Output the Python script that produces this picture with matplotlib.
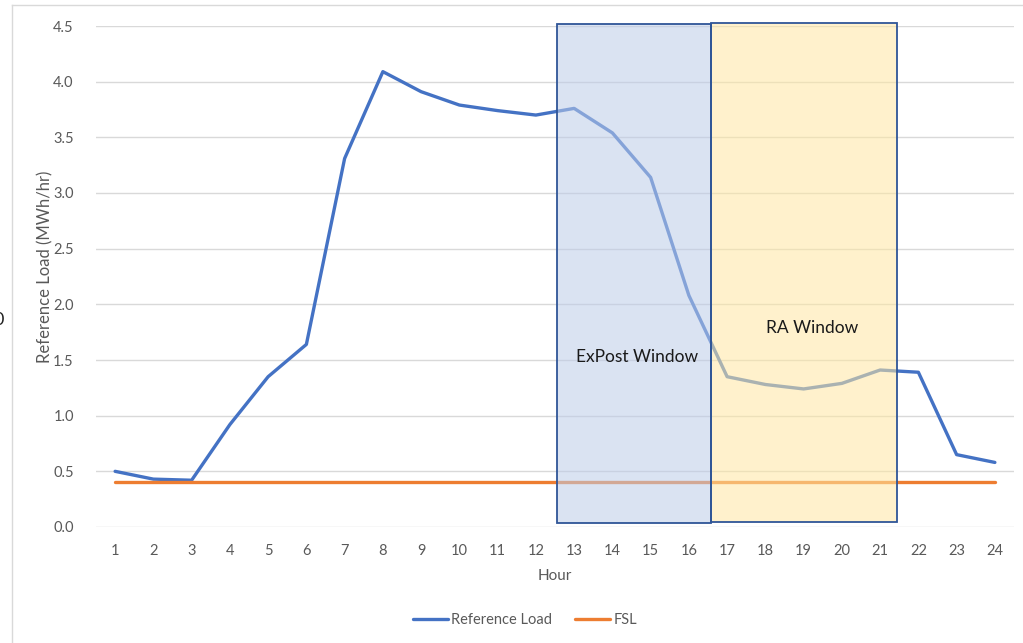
import matplotlib
matplotlib.use("Agg")
import matplotlib.pyplot as plt
from matplotlib.patches import Rectangle

plt.rcParams['font.family'] = ['Lato', 'DejaVu Sans']

hours = list(range(1, 25))
reference_load = [0.50, 0.43, 0.42, 0.92, 1.35, 1.64, 3.31, 4.09, 3.91, 3.79, 3.74, 3.70,
                  3.76, 3.54, 3.14, 2.08, 1.35, 1.28, 1.24, 1.29, 1.41, 1.39, 0.65, 0.58]
fsl = [0.40] * 24
y_ticks = [0.0, 0.5, 1.0, 1.5, 2.0, 2.5, 3.0, 3.5, 4.0, 4.5]

# shaded windows: (x start, x end, y bottom, y top)
expost_window = (12.55, 16.58, 0.036, 4.52)
ra_window = (16.58, 21.44, 0.045, 4.53)

W, H = 1023, 643
fig = plt.figure(figsize=(W / 100, H / 100), dpi=100)
ax = fig.add_axes([96 / W, (H - 527) / H, (1014 - 96) / W, (527 - 26) / H])

ax.plot(hours, reference_load, color='#4472C4', lw=2.4, solid_capstyle='round',
        label='Reference Load', zorder=3)
ax.plot(hours, fsl, color='#ED7D31', lw=2.4, solid_capstyle='round',
        label='FSL', zorder=3)

ax.set_xlim(0.5, 24.5)
ax.set_ylim(0, 4.5)
ax.set_xticks(hours)
ax.set_yticks(y_ticks)
ax.set_yticklabels([f"{v:.1f}" for v in y_ticks])
ax.yaxis.grid(True, color='#D9D9D9', lw=1.0, zorder=0)
ax.set_axisbelow(True)
for s in ax.spines.values():
    s.set_visible(False)
ax.tick_params(axis='both', length=0, colors='#595959', labelsize=10.5)
ax.tick_params(axis='y', pad=16)
ax.tick_params(axis='x', pad=12)
ax.set_xlabel('Hour', color='#595959', fontsize=11, labelpad=8)
ax.set_ylabel('Reference Load (MWh/hr)', color='#595959', fontsize=12)
ax.yaxis.set_label_coords(-51 / 918, 0.52)
ax.yaxis.label.set_verticalalignment('center')

for (x0, x1, y0, y1), fc in [(expost_window, '#BCCCE9'), (ra_window, '#FFE7A2')]:
    ax.add_patch(Rectangle((x0, y0), x1 - x0, y1 - y0, facecolor=fc, alpha=0.55,
                           edgecolor='none', zorder=4, clip_on=False))
    ax.add_patch(Rectangle((x0, y0), x1 - x0, y1 - y0, facecolor='none',
                           edgecolor='#2F5597', lw=1.3, zorder=5, clip_on=False))

ax.text(14.64, 1.53, 'ExPost Window', ha='center', va='center', fontsize=12.5,
        color='#1A1A1A', zorder=6)
ax.text(19.22, 1.79, 'RA Window', ha='center', va='center', fontsize=12.5,
        color='#1A1A1A', zorder=6)

leg = fig.legend(loc='center', bbox_to_anchor=(525 / W, (H - 620) / H), ncol=2,
                 frameon=False, fontsize=10.5, handlelength=2.4, columnspacing=1.6,
                 handletextpad=0.2)
for t in leg.get_texts():
    t.set_color('#595959')

# chart area border
fig.add_artist(plt.Line2D([12 / W, 12 / W], [0, (H - 5) / H], color='#D9D9D9', lw=1.0))
fig.add_artist(plt.Line2D([12 / W, 1], [(H - 5) / H, (H - 5) / H], color='#D9D9D9', lw=1.0))
fig.text(-6 / W, (H - 320) / H, '0', fontsize=13, color='#222222', va='center', ha='left')

fig.savefig('out.png', dpi=100)
